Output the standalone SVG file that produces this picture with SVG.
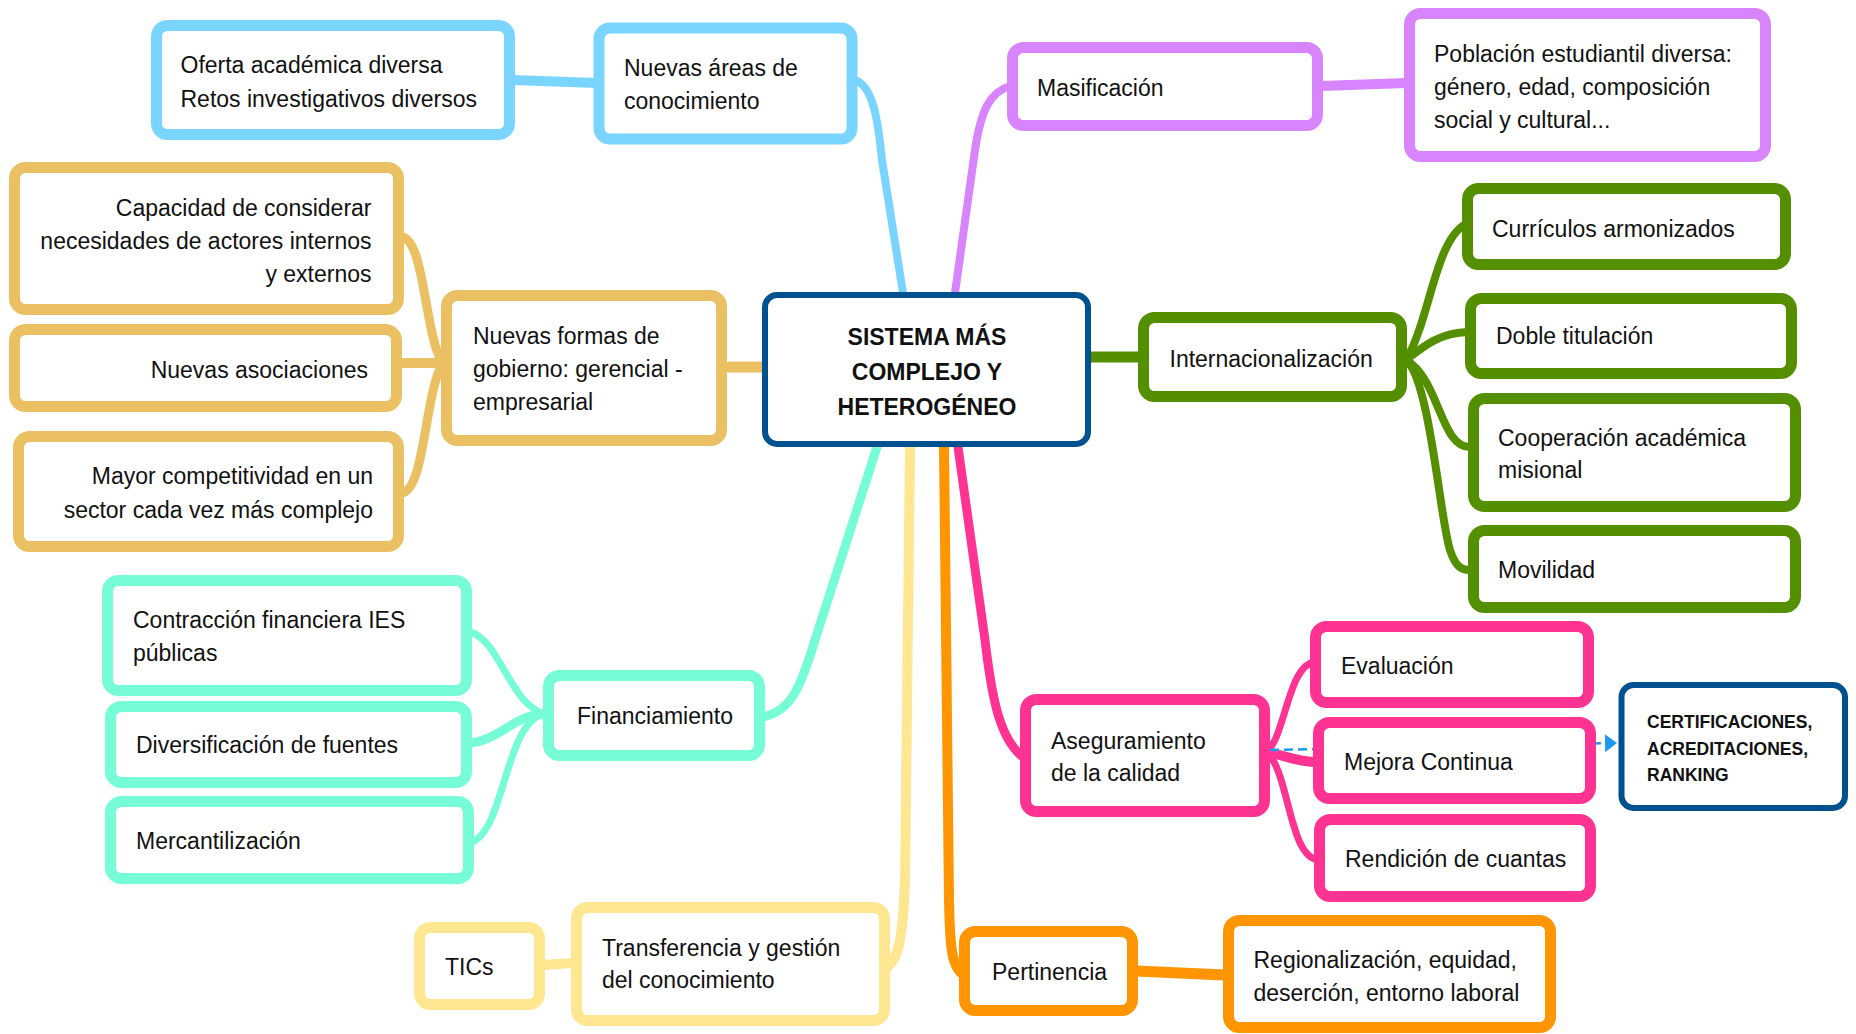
<svg xmlns="http://www.w3.org/2000/svg" width="1856" height="1034" viewBox="0 0 1856 1034">
<defs>
<style>
.n{fill:#fff;stroke-width:11;}
.t{font-family:"Liberation Sans",Arial,sans-serif;font-size:23px;fill:#111;}
.b{font-weight:bold;}
.c{fill:none;stroke-linecap:round;}
.blue{stroke:#79D5FF;} .purple{stroke:#D884FC;} .green{stroke:#548F00;} .pink{stroke:#FF3392;}
.orange{stroke:#FF9500;} .yellow{stroke:#FFE690;} .teal{stroke:#76FCD6;} .gold{stroke:#EBC062;} .navy{stroke:#00518F;}
</style>
<marker id="ah" viewBox="0 0 12 18" refX="12" refY="9" markerWidth="12" markerHeight="18" markerUnits="userSpaceOnUse" orient="auto">
<path d="M0,0 L12,9 L0,18 Z" fill="#1E9BF0"/>
</marker>
</defs>
<rect width="1856" height="1034" fill="#fff"/>

<g id="connectors">
<path class="c blue" stroke-width="8" d="M855,80 C873,86 878,120 882,160 L903,293"/>
<path class="c blue" stroke-width="10" d="M514,80 L596,83"/>
<path class="c purple" stroke-width="8" d="M955,293 L975,150 C981,110 990,92 1010,86"/>
<path class="c purple" stroke-width="10" d="M1321,86 L1406,83"/>
<path class="c green" stroke-width="11" d="M1089,357 L1140,357"/>
<path class="c green" stroke-width="8" d="M1406,360 C1430,320 1435,240 1466,224"/>
<path class="c green" stroke-width="8" d="M1406,360 C1425,345 1440,333 1468,332"/>
<path class="c green" stroke-width="8" d="M1406,360 C1440,380 1440,447 1470,447"/>
<path class="c green" stroke-width="8" d="M1406,360 C1430,380 1440,520 1450,550 C1455,565 1460,570 1470,570"/>
<path class="c pink" stroke-width="9" d="M958,447 L985,640 C992,700 1000,740 1024,758"/>
<path class="c pink" stroke-width="7" d="M1266,752 C1285,740 1288,662 1316,662"/>
<path class="c pink" stroke-width="10" d="M1266,752 C1285,755 1295,762 1318,762"/>
<path class="c pink" stroke-width="7" d="M1266,752 C1290,770 1288,860 1320,860"/>
<path class="c orange" stroke-width="10" d="M944,447 L949,900 C950,950 952,968 964,975"/>
<path class="c orange" stroke-width="11" d="M1136,971 L1225,975"/>
<path class="c yellow" stroke-width="10" d="M910,447 L905,880 C903,940 898,960 886,968"/>
<path class="c yellow" stroke-width="10" d="M543,965 L573,963"/>
<path class="c teal" stroke-width="9" d="M877,447 L815,640 C800,690 790,712 762,717"/>
<path class="c teal" stroke-width="7" d="M470,632 C500,640 510,705 545,714"/>
<path class="c teal" stroke-width="9" d="M470,743 C500,740 515,714 545,714"/>
<path class="c teal" stroke-width="7" d="M472,842 C505,830 505,720 545,714"/>
<path class="c gold" stroke-width="11" d="M729,367 L764,367"/>
<path class="c gold" stroke-width="9" d="M402,237 C425,240 425,340 443,363"/>
<path class="c gold" stroke-width="10" d="M400,363 L443,363"/>
<path class="c gold" stroke-width="9" d="M402,493 C425,490 425,390 443,363"/>
<path fill="none" stroke="#1E9BF0" stroke-width="2.5" stroke-dasharray="9,5" d="M1270,750 L1617,743" marker-end="url(#ah)"/>
</g>

<g id="central">
<rect x="765" y="295" width="323" height="149" rx="12" fill="#fff" stroke="#00518F" stroke-width="6"/>
<text class="t b" text-anchor="middle"><tspan x="927" y="345">SISTEMA MÁS</tspan><tspan x="927" y="380">COMPLEJO Y</tspan><tspan x="927" y="415">HETEROGÉNEO</tspan></text>
</g>

<g id="nuevas-areas">
<rect class="n blue" x="599" y="28" width="253" height="111" rx="11"/>
<text class="t"><tspan x="624" y="76">Nuevas áreas de</tspan><tspan x="624" y="109">conocimiento</tspan></text>
</g>
<g id="oferta">
<rect class="n blue" x="156.5" y="25.5" width="353" height="109" rx="11"/>
<text class="t"><tspan x="180.5" y="73">Oferta académica diversa</tspan><tspan x="180.5" y="107">Retos investigativos diversos</tspan></text>
</g>

<g id="masificacion">
<rect class="n purple" x="1012.5" y="47.5" width="305" height="78" rx="11"/>
<text class="t" x="1037" y="96">Masificación</text>
</g>
<g id="poblacion">
<rect class="n purple" x="1409.5" y="13.5" width="356" height="143" rx="11"/>
<text class="t"><tspan x="1434" y="62">Población estudiantil diversa:</tspan><tspan x="1434" y="95">género, edad, composición</tspan><tspan x="1434" y="128">social y cultural...</tspan></text>
</g>

<g id="internacionalizacion">
<rect class="n green" x="1143.5" y="317.5" width="258" height="79" rx="11"/>
<text class="t" x="1169.5" y="367">Internacionalización</text>
</g>
<g id="curriculos">
<rect class="n green" x="1467.5" y="188.5" width="318" height="76" rx="11"/>
<text class="t" x="1492" y="237">Currículos armonizados</text>
</g>
<g id="doble">
<rect class="n green" x="1470.5" y="298.5" width="321" height="75" rx="11"/>
<text class="t" x="1496" y="344">Doble titulación</text>
</g>
<g id="cooperacion">
<rect class="n green" x="1473.5" y="398.5" width="322" height="108" rx="11"/>
<text class="t"><tspan x="1498" y="446">Cooperación académica</tspan><tspan x="1498" y="478">misional</tspan></text>
</g>
<g id="movilidad">
<rect class="n green" x="1473.5" y="530.5" width="322" height="77" rx="11"/>
<text class="t" x="1498" y="578">Movilidad</text>
</g>

<g id="aseguramiento">
<rect class="n pink" x="1025.5" y="699.5" width="239" height="112" rx="11"/>
<text class="t"><tspan x="1051" y="749">Aseguramiento</tspan><tspan x="1051" y="781">de la calidad</tspan></text>
</g>
<g id="evaluacion">
<rect class="n pink" x="1315.5" y="626.5" width="273" height="76" rx="11"/>
<text class="t" x="1341" y="674">Evaluación</text>
</g>
<g id="mejora">
<rect class="n pink" x="1318.5" y="722.5" width="272" height="76" rx="11"/>
<text class="t" x="1344" y="770">Mejora Continua</text>
</g>
<g id="rendicion">
<rect class="n pink" x="1319.5" y="819.5" width="271" height="77" rx="11"/>
<text class="t" x="1345" y="867">Rendición de cuantas</text>
</g>
<g id="certificaciones">
<rect x="1621.5" y="685" width="223.5" height="123" rx="12" fill="#fff" stroke="#00518F" stroke-width="6"/>
<text class="t b" style="font-size:17.5px"><tspan x="1647" y="728">CERTIFICACIONES,</tspan><tspan x="1647" y="755">ACREDITACIONES,</tspan><tspan x="1647" y="781">RANKING</tspan></text>
</g>

<g id="pertinencia">
<rect class="n orange" x="964.5" y="931.5" width="168" height="79" rx="11"/>
<text class="t" x="992" y="980">Pertinencia</text>
</g>
<g id="regionalizacion">
<rect class="n orange" x="1228.5" y="920.5" width="322" height="107" rx="11"/>
<text class="t"><tspan x="1253.5" y="968">Regionalización, equidad,</tspan><tspan x="1253.5" y="1001">deserción, entorno laboral</tspan></text>
</g>

<g id="transferencia">
<rect class="n yellow" x="576.5" y="907.5" width="308" height="113" rx="11"/>
<text class="t"><tspan x="602" y="956">Transferencia y gestión</tspan><tspan x="602" y="988">del conocimiento</tspan></text>
</g>
<g id="tics">
<rect class="n yellow" x="419.5" y="927.5" width="120" height="77" rx="11"/>
<text class="t" x="445" y="975">TICs</text>
</g>

<g id="financiamiento">
<rect class="n teal" x="548.5" y="675.5" width="211" height="80" rx="11"/>
<text class="t" x="577" y="724">Financiamiento</text>
</g>
<g id="contraccion">
<rect class="n teal" x="107.5" y="580.5" width="359" height="110" rx="11"/>
<text class="t"><tspan x="133" y="628">Contracción financiera IES</tspan><tspan x="133" y="661">públicas</tspan></text>
</g>
<g id="diversificacion">
<rect class="n teal" x="110.5" y="706.5" width="356" height="76" rx="11"/>
<text class="t" x="136" y="753">Diversificación de fuentes</text>
</g>
<g id="mercantilizacion">
<rect class="n teal" x="110.5" y="801.5" width="358" height="77" rx="11"/>
<text class="t" x="136" y="849">Mercantilización</text>
</g>

<g id="nuevas-formas">
<rect class="n gold" x="446.5" y="295.5" width="275" height="145" rx="11"/>
<text class="t"><tspan x="473" y="344">Nuevas formas de</tspan><tspan x="473" y="377">gobierno: gerencial -</tspan><tspan x="473" y="410">empresarial</tspan></text>
</g>
<g id="capacidad">
<rect class="n gold" x="14.5" y="167.5" width="384" height="142" rx="11"/>
<text class="t" text-anchor="end"><tspan x="371.5" y="216">Capacidad de considerar</tspan><tspan x="371.5" y="249">necesidades de actores internos</tspan><tspan x="371.5" y="282">y externos</tspan></text>
</g>
<g id="asociaciones">
<rect class="n gold" x="14.5" y="329.5" width="382" height="77" rx="11"/>
<text class="t" text-anchor="end" x="368" y="378">Nuevas asociaciones</text>
</g>
<g id="competitividad">
<rect class="n gold" x="18.5" y="436.5" width="380" height="110" rx="11"/>
<text class="t" text-anchor="end"><tspan x="373" y="484">Mayor competitividad en un</tspan><tspan x="373" y="518">sector cada vez más complejo</tspan></text>
</g>
</svg>
